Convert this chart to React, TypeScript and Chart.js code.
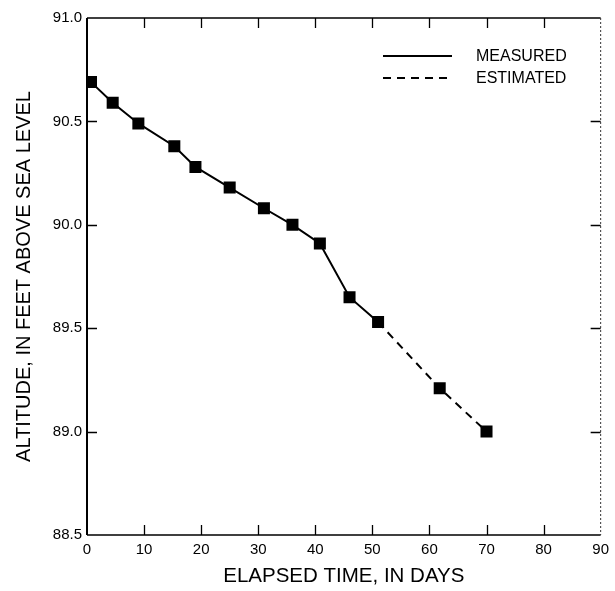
import React, { useEffect, useRef } from "react";
import { Chart, registerables } from "chart.js";

Chart.register(...registerables);

// ---- data ----
const measuredDays = [0.7, 4.5, 9.0, 15.3, 19.0, 25.0, 31.0, 36.0, 40.8, 46.0, 51.0];
const measuredAltitude = [90.69, 90.59, 90.49, 90.38, 90.28, 90.18, 90.08, 90.0, 89.91, 89.65, 89.53];
const estimatedDays = [51.0, 61.8, 70.0];
const estimatedAltitude = [89.53, 89.21, 89.0];

const xTickValues = [0, 10, 20, 30, 40, 50, 60, 70, 80, 90];
const yTickValues = [88.5, 89.0, 89.5, 90.0, 90.5, 91.0];

const seriesLabels = ["MEASURED", "ESTIMATED"];
const xTitle = "ELAPSED TIME, IN DAYS";
const yTitle = "ALTITUDE, IN FEET ABOVE SEA LEVEL";

const FONT = "'Liberation Sans', Arial, Helvetica, sans-serif";

const toPoints = (xs: number[], ys: number[]) => xs.map((x, i) => ({ x, y: ys[i] }));

const framePlugin = {
  id: "frameTicks",
  afterDraw(chart: any) {
    const { ctx, chartArea } = chart;
    const { left, right, top, bottom } = chartArea;
    const xs = chart.scales.x;
    const ys = chart.scales.y;
    const tl = 10;
    ctx.save();
    ctx.strokeStyle = "#000";
    // left axis
    ctx.lineWidth = 2;
    ctx.beginPath();
    ctx.moveTo(left, top);
    ctx.lineTo(left, bottom);
    ctx.stroke();
    // top & bottom
    ctx.lineWidth = 1.5;
    ctx.beginPath();
    ctx.moveTo(left, top);
    ctx.lineTo(right, top);
    ctx.moveTo(left, bottom);
    ctx.lineTo(right, bottom);
    ctx.stroke();
    // right (faint dotted in the scan)
    ctx.lineWidth = 1;
    ctx.strokeStyle = "#333";
    ctx.setLineDash([2, 2]);
    ctx.beginPath();
    ctx.moveTo(right, top);
    ctx.lineTo(right, bottom);
    ctx.stroke();
    ctx.setLineDash([]);
    ctx.strokeStyle = "#000";
    ctx.lineWidth = 1.3;
    // inward ticks
    ctx.beginPath();
    xTickValues.slice(1, -1).forEach((v) => {
      const px = Math.round(xs.getPixelForValue(v)) + 0.5;
      ctx.moveTo(px, top);
      ctx.lineTo(px, top + tl);
      ctx.moveTo(px, bottom);
      ctx.lineTo(px, bottom - tl);
    });
    yTickValues.slice(1, -1).forEach((v) => {
      const py = Math.round(ys.getPixelForValue(v)) + 0.5;
      ctx.moveTo(left, py);
      ctx.lineTo(left + tl, py);
      ctx.moveTo(right, py);
      ctx.lineTo(right - tl, py);
    });
    ctx.stroke();
    ctx.restore();
  },
};

const legendPlugin = {
  id: "insideLegend",
  afterDraw(chart: any) {
    const { ctx, chartArea } = chart;
    ctx.save();
    chart.data.datasets.forEach((ds: any, i: number) => {
      const y = chartArea.top + 38 + i * 22;
      const x0 = chartArea.left + 296;
      const x1 = chartArea.left + 365;
      ctx.strokeStyle = "#000";
      ctx.lineWidth = 2;
      ctx.setLineDash(ds.borderDash || []);
      ctx.beginPath();
      ctx.moveTo(x0, y);
      ctx.lineTo(x1, y);
      ctx.stroke();
      ctx.setLineDash([]);
      ctx.fillStyle = "#000";
      ctx.font = `16px ${FONT}`;
      ctx.textBaseline = "middle";
      ctx.textAlign = "left";
      ctx.fillText(ds.label, chartArea.left + 389, y + 1);
    });
    ctx.restore();
  },
};

export default function App() {
  const canvasRef = useRef<HTMLCanvasElement | null>(null);

  useEffect(() => {
    document.body.style.margin = "0";
    const canvas = canvasRef.current;
    if (!canvas) return;
    const chart = new Chart(canvas, {
      type: "scatter",
      data: {
        datasets: [
          {
            label: seriesLabels[0],
            data: toPoints(measuredDays, measuredAltitude),
            showLine: true,
            borderColor: "#000",
            backgroundColor: "#000",
            borderWidth: 2,
            pointStyle: "rect",
            pointRadius: 8.5,
            pointBorderWidth: 0,
            order: 1,
          },
          {
            label: seriesLabels[1],
            data: toPoints(estimatedDays, estimatedAltitude),
            showLine: true,
            borderColor: "#000",
            backgroundColor: "#000",
            borderWidth: 2,
            borderDash: [8, 6],
            pointStyle: "rect",
            pointRadius: estimatedDays.map((_, i) => (i === 0 ? 0 : 8.5)),
            pointBorderWidth: 0,
            order: 2,
          },
        ],
      },
      options: {
        animation: false,
        responsive: false,
        devicePixelRatio: 1,
        layout: { padding: { top: 18, right: 9, left: 0, bottom: 0 } },
        plugins: {
          legend: { display: false },
          tooltip: { enabled: false },
        },
        scales: {
          x: {
            type: "linear",
            min: 0,
            max: 90,
            afterBuildTicks: (s: any) => {
              s.ticks = xTickValues.map((v) => ({ value: v }));
            },
            afterFit: (s: any) => {
              s.height = 56;
            },
            grid: { display: false, drawTicks: false },
            border: { display: false },
            ticks: {
              padding: 6,
              color: "#000",
              font: { family: FONT, size: 15 },
              maxRotation: 0,
              callback: (v: any) => String(v),
            },
            title: {
              display: true,
              text: xTitle,
              color: "#000",
              font: { family: FONT, size: 20.5, lineHeight: 1.2 },
              padding: { top: 0, bottom: 2 },
            },
          },
          y: {
            type: "linear",
            min: 88.5,
            max: 91.0,
            afterBuildTicks: (s: any) => {
              s.ticks = yTickValues.map((v) => ({ value: v }));
            },
            afterFit: (s: any) => {
              s.width = 87;
            },
            grid: { display: false, drawTicks: false },
            border: { display: false },
            ticks: {
              padding: 5,
              color: "#000",
              font: { family: FONT, size: 15 },
              callback: (v: any) => Number(v).toFixed(1),
            },
            title: {
              display: true,
              text: yTitle,
              color: "#000",
              font: { family: FONT, size: 20, lineHeight: 1.2 },
              padding: { top: 12, bottom: 0 },
            },
          },
        },
      },
      plugins: [framePlugin, legendPlugin],
    });
    return () => chart.destroy();
  }, []);

  return (
    <div style={{ position: "fixed", left: 0, top: 0, width: 615, height: 591, background: "#fff" }}>
      <canvas ref={canvasRef} width={615} height={591} style={{ display: "block" }} />
    </div>
  );
}
